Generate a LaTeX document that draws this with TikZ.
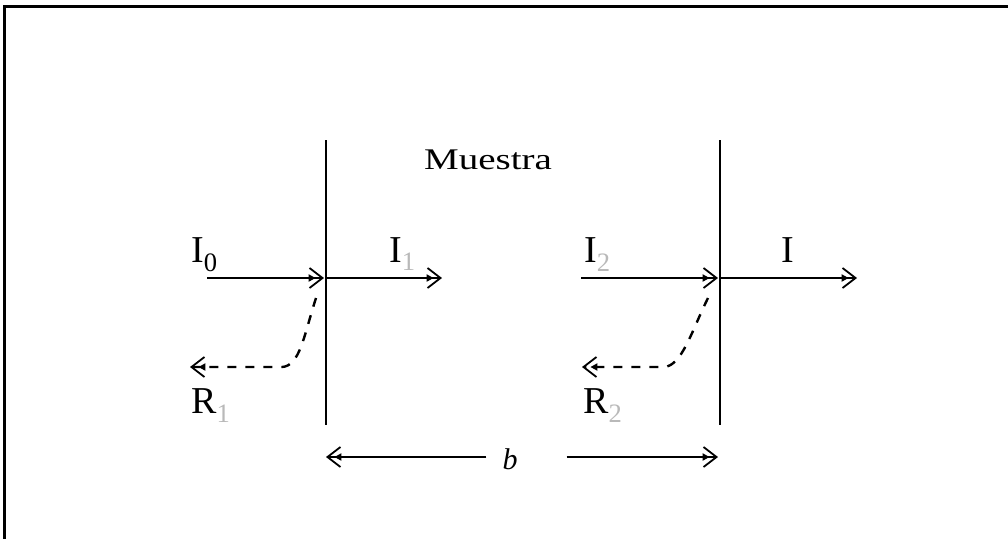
\documentclass[tikz,border=0pt]{standalone}
\usepackage{fontspec}
\setmainfont{Liberation Serif}
\newfontfamily\widefont[FakeStretch=1.3]{Liberation Serif}
\usetikzlibrary{arrows.meta}
\tikzset{arr/.style={-{Triangle[length=7pt, width=7pt, sep=-7pt]Straight Barb[length=13pt, width=20pt, line width=1.8pt]}}}

\begin{document}
\begin{tikzpicture}[
      x=1pt, y=-1pt,
      line width=2.4pt,
      every node/.style={inner sep=0pt, font=\fontsize{38}{40}\selectfont},
      refl/.style={draw, arr, dash pattern=on 9pt off 9pt},
  ]
      \useasboundingbox (0,0) rectangle (1008,539);

      % Frame: top and left sides only
      \draw[line width=3pt] (1008,6) -- (4,6) -- (4,539);

      % Walls of the sample
      \coordinate (lwtop) at (326,140);
      \coordinate (lwbot) at (326,425);
      \coordinate (rwtop) at (720,140);
      \coordinate (rwbot) at (720,425);
      \draw (lwtop) -- (lwbot);
      \draw (rwtop) -- (rwbot);
      \node[anchor=base west, font=\widefont\fontsize{30}{32}\selectfont] (muestra) at (423,169) {Muestra};

      % Beam points
      \coordinate (in0) at (207,278);
      \coordinate (hit1) at (324,278);
      \coordinate (out1) at (326,278);
      \coordinate (end1) at (442,278);
      \coordinate (in2) at (581,278);
      \coordinate (hit2) at (718,278);
      \coordinate (out2) at (720,278);
      \coordinate (end2) at (857,278);

      % Transmitted beams
      \draw[arr] (in0) -- (hit1);
      \draw[arr] (out1) -- (end1);
      \draw[arr] (in2) -- (hit2);
      \draw[arr] (out2) -- (end2);

      % Reflected beams
      \coordinate (r1start) at (316,298);
      \coordinate (r1end) at (190,367);
      \coordinate (r2start) at (708,298);
      \coordinate (r2end) at (582,367);
      \draw[refl] (r1start) .. controls (304,335) and (300,366) .. (282,367) -- (r1end);
      \draw[refl] (r2start) .. controls (692,330) and (682,366) .. (664,367) -- (r2end);

      % Labels
      \node[anchor=base west] (lbI0) at (190,262) {I\textsubscript{0}};
      \node[anchor=base west] (lbI1) at (388,262) {I\textsubscript{\color{gray!55}1}};
      \node[anchor=base west] (lbI2) at (583,262) {I\textsubscript{\color{gray!55}2}};
      \node[anchor=base west] (lbI) at (780,262) {I};
      \node[anchor=base west] (lbR1) at (190,413) {R\textsubscript{\color{gray!55}1}};
      \node[anchor=base west] (lbR2) at (582,413) {R\textsubscript{\color{gray!55}2}};

      % Thickness b
      \node[font=\fontsize{30}{32}\selectfont\itshape] (thick) at (510,459) {b};
      \coordinate (bleft) at (326,457);
      \coordinate (bright) at (718,457);
      \draw[arr, shorten <=15pt] (thick.west |- bleft) -- (bleft);
      \draw[arr, shorten <=48pt] (thick.east |- bright) -- (bright);

\end{tikzpicture}
\end{document}
